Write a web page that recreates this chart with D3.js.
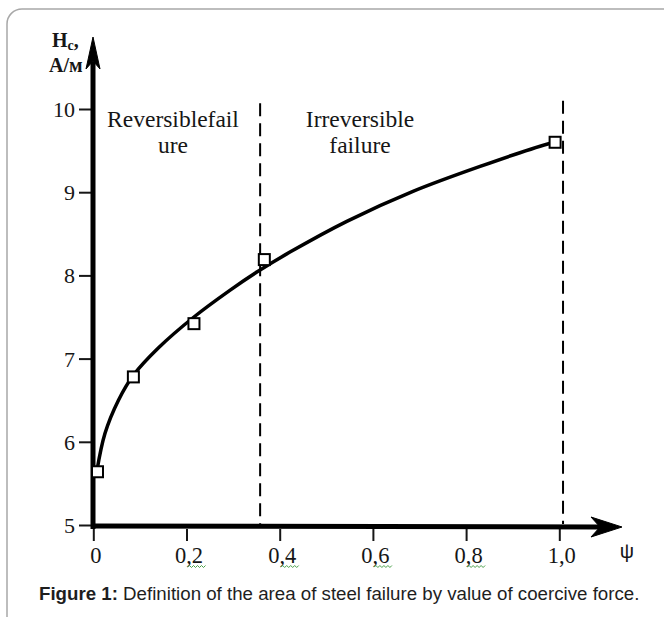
<!DOCTYPE html>
<html>
<head>
<meta charset="utf-8"/>
<script src="https://d3js.org/d3.v7.min.js"></script>
<style>
  body { margin: 0; background: #fff; }
  svg { display: block; }
</style>
</head>
<body>
<script>
// measured points (psi, Hc)
var pointPsi = [0.009, 0.086, 0.216, 0.367, 0.991];
var pointHc  = [5.64, 6.78, 7.42, 8.19, 9.60];

// fitted curve
var curvePsi = [0.008, 0.025, 0.054, 0.086, 0.14, 0.216, 0.293, 0.351, 0.422, 0.544, 0.686, 0.83, 0.975, 0.99];
var curveHc  = [5.66, 6.10, 6.50, 6.80, 7.13, 7.50, 7.82, 8.04, 8.28, 8.65, 9.01, 9.31, 9.58, 9.60];

// borders between the two zones
var zonePsi = [0.358, 1.008];
var zoneTop = [10.07, 10.1];

var xTicks = [0, 0.2, 0.4, 0.6, 0.8, 1.0];
var xTickLabels = ["0", "0,2", "0,4", "0,6", "0,8", "1,0"];
var yTicks = [5, 6, 7, 8, 9, 10];

var W = 664, H = 617;
var svg = d3.select("body").append("svg").attr("width", W).attr("height", H);

// frame (only top + left visible)
svg.append("rect")
  .attr("x", 7).attr("y", 9).attr("width", 720).attr("height", 720)
  .attr("rx", 15).attr("fill", "none")
  .attr("stroke", "#a8a8a8").attr("stroke-width", 1.5);

var x = d3.scaleLinear().domain([0, 1]).range([93.3, 559.3]);
var y = d3.scaleLinear().domain([5, 10]).range([525, 109]);

var serif = "'Liberation Serif', 'Times New Roman', serif";
var ink = "#161616";

// y axis ticks
var yAx = svg.append("g").attr("transform", "translate(91,0)")
  .call(d3.axisLeft(y).tickValues(yTicks).tickSize(12).tickPadding(4).tickFormat(d3.format("d")));
yAx.select(".domain").remove();
yAx.selectAll(".tick line").attr("stroke", ink).attr("stroke-width", 2);
yAx.selectAll(".tick text").attr("font-family", serif).attr("font-size", 22).attr("fill", ink).attr("dy", "0.34em");

// x axis ticks
var xAx = svg.append("g").attr("transform", "translate(0,529)")
  .call(d3.axisBottom(x).tickValues(xTicks).tickSize(12).tickPadding(6)
    .tickFormat(function(d, i) { return xTickLabels[i]; }));
xAx.select(".domain").remove();
xAx.selectAll(".tick line").attr("stroke", ink).attr("stroke-width", 2);
xAx.selectAll(".tick text").attr("font-family", serif).attr("font-size", 22.5).attr("fill", ink).attr("x", 2);

// green spell-check squiggles under the decimal commas
var squig = svg.append("g").attr("fill", "none").attr("stroke", "#4aa04a").attr("stroke-width", 1);
xTicks.slice(1, 5).forEach(function(t) {
  var x0 = x(t) + 1, d = "M" + x0 + ",567";
  for (var k = 1; k <= 9; k++) d += "L" + (x0 + k * 2) + "," + (k % 2 ? 565.5 : 567.5);
  squig.append("path").attr("d", d);
});

// thick axis lines with arrowheads
svg.append("line").attr("x1", 93).attr("y1", 529).attr("x2", 93).attr("y2", 62)
  .attr("stroke", "#000").attr("stroke-width", 5);
svg.append("path").attr("d", "M93,37 L86,69 L93,61 L100,69 Z").attr("fill", "#000").attr("stroke", "#000").attr("stroke-width", 1);
svg.append("line").attr("x1", 91).attr("y1", 526).attr("x2", 600).attr("y2", 527)
  .attr("stroke", "#000").attr("stroke-width", 5);
svg.append("path").attr("d", "M622,527 L591,517 L600,527 L591,537 Z").attr("fill", "#000").attr("stroke", "#000").attr("stroke-width", 1);

// dashed zone borders
svg.selectAll(".zone").data(zonePsi).enter().append("line")
  .attr("class", "zone")
  .attr("x1", function(d) { return x(d); }).attr("x2", function(d) { return x(d); })
  .attr("y1", function(d, i) { return y(zoneTop[i]); }).attr("y2", 524)
  .attr("stroke", "#000").attr("stroke-width", 2).attr("stroke-dasharray", "13,7");

// curve
var line = d3.line()
  .x(function(d, i) { return x(curvePsi[i]); })
  .y(function(d, i) { return y(curveHc[i]); })
  .curve(d3.curveCatmullRom.alpha(0.5));
svg.append("path").datum(curveHc).attr("d", line)
  .attr("fill", "none").attr("stroke", "#000").attr("stroke-width", 3.5);

// measured points
var s = 11;
svg.selectAll(".pt").data(pointHc).enter().append("rect")
  .attr("class", "pt")
  .attr("x", function(d, i) { return x(pointPsi[i]) - s / 2; })
  .attr("y", function(d) { return y(d) - s / 2; })
  .attr("width", s).attr("height", s)
  .attr("fill", "#fff").attr("stroke", "#000").attr("stroke-width", 2);

// axis titles
var hc = svg.append("text").attr("x", 52).attr("y", 47)
  .attr("font-family", serif).attr("font-weight", "bold").attr("font-size", 20).attr("fill", ink);
hc.append("tspan").text("H");
hc.append("tspan").attr("font-size", 14).attr("dy", 3).text("c");
hc.append("tspan").attr("dy", -3).text(",");
svg.append("text").attr("x", 49).attr("y", 72)
  .attr("font-family", serif).attr("font-weight", "bold").attr("font-size", 20).attr("fill", ink)
  .text("A/м");
svg.append("text").attr("x", 627).attr("y", 558).attr("text-anchor", "middle")
  .attr("font-family", "'Liberation Sans', Arial, sans-serif").attr("font-size", 20).attr("fill", ink)
  .text("ψ");

// zone labels
var zones = [
  { cx: 173, lines: ["Reversiblefail", "ure"] },
  { cx: 360, lines: ["Irreversible", "failure"] }
];
zones.forEach(function(z) {
  z.lines.forEach(function(t, i) {
    svg.append("text").attr("x", z.cx).attr("y", 127 + i * 26).attr("text-anchor", "middle")
      .attr("font-family", serif).attr("font-size", 23.5).attr("fill", ink).text(t);
  });
});

// caption
var cap = svg.append("text").attr("x", 39).attr("y", 600)
  .attr("font-family", "'Liberation Sans', Arial, sans-serif").attr("font-size", 18.7).attr("fill", "#1e1e1e");
cap.append("tspan").attr("font-weight", "bold").text("Figure 1:");
cap.append("tspan").text(" Definition of the area of steel failure by value of coercive force.");
</script>
</body>
</html>
